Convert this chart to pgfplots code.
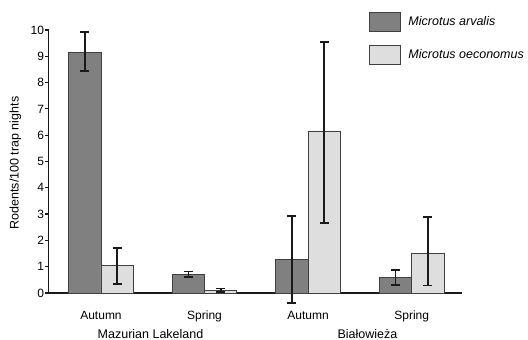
\documentclass[border=0pt]{standalone}
\usepackage{fontspec}
\setmainfont{Liberation Sans}
\usepackage{pgfplots}
\pgfplotsset{compat=1.18}
\usepackage{pgfplotstable}

\definecolor{darkbar}{HTML}{808080}
\definecolor{lightbar}{HTML}{DEDEDE}
\definecolor{edge}{HTML}{404040}
\definecolor{errc}{HTML}{1A1A1A}

\pgfplotstableread{
x y ep em
0 9.15 0.77 0.70
1 0.71 0.11 0.10
2 1.29 1.64 1.68
3 0.60 0.27 0.30
}\arvalis
\pgfplotstableread{
x y ep em
0 1.04 0.67 0.70
1 0.10 0.07 0.07
2 6.16 3.38 3.49
3 1.51 1.37 1.23
}\oeconomus

\begin{document}
\begin{tikzpicture}
\useasboundingbox (-48.7pt,-47pt) rectangle (479.3pt,293pt);
\begin{axis}[
  scale only axis, width=413pt, height=263pt,
  xmin=-0.505, xmax=3.483, ymin=0, ymax=10,
  clip=false,
  axis x line*=bottom, axis y line*=left,
  axis line style={line width=1.6pt, color=errc},
  ytick={0,1,...,10},
  xtick={0,1,2,3},
  xticklabels={Autumn,Spring,Autumn,Spring},
  x tick style={draw=none},
  y tick style={line width=1.2pt, color=errc},
  tick align=outside, major tick length=3.5pt,
  /pgf/number format/assume math mode=true,
  tick label style={font=\fontsize{12}{14}\selectfont},
  yticklabel style={inner sep=1pt},
  xticklabel style={anchor=base, yshift=-22.7pt},
  every axis y label/.style={at={(axis description cs:0,0.494)}, xshift=-33.2pt, rotate=90, anchor=center, font=\fontsize{12.5}{15}\selectfont},
  ylabel={Rodents/100 trap nights},
  ybar, bar width=0.312,
  legend style={draw=none, fill=none, at={(axis description cs:0.7755,1.0684)}, anchor=north west,
    inner sep=0pt, outer sep=0pt, row sep=13pt, column sep=7.7pt,
    font=\itshape\fontsize{12.5}{15}\selectfont, nodes={inner sep=0pt}},
  legend cell align=left,
  legend image code/.code={\draw[#1] (0pt,-9.5pt) rectangle (31pt,9.5pt);},
]
\addplot[ybar, bar shift=-0.156, fill=darkbar, draw=edge, line width=0.8pt,
  error bars/.cd, y dir=both, y explicit,
  error bar style={line width=1.6pt, color=errc},
  error mark options={rotate=90, mark size=4.5pt, line width=1.6pt, color=errc}]
  table[x=x, y=y, y error plus=ep, y error minus=em] {\arvalis};
\addplot[ybar, bar shift=0.156, fill=lightbar, draw=edge, line width=0.8pt,
  error bars/.cd, y dir=both, y explicit,
  error bar style={line width=1.6pt, color=errc},
  error mark options={rotate=90, mark size=4.5pt, line width=1.6pt, color=errc}]
  table[x=x, y=y, y error plus=ep, y error minus=em] {\oeconomus};
\legend{Microtus arvalis, Microtus oeconomus}
\node[anchor=base, yshift=-45.3pt, font=\fontsize{12.5}{15}\selectfont] at (axis cs:0.478,0) {Mazurian Lakeland};
\node[anchor=base, yshift=-45.3pt, font=\fontsize{12.5}{15}\selectfont] at (axis cs:2.573,0) {Białowieża};
\end{axis}
\end{tikzpicture}
\end{document}
